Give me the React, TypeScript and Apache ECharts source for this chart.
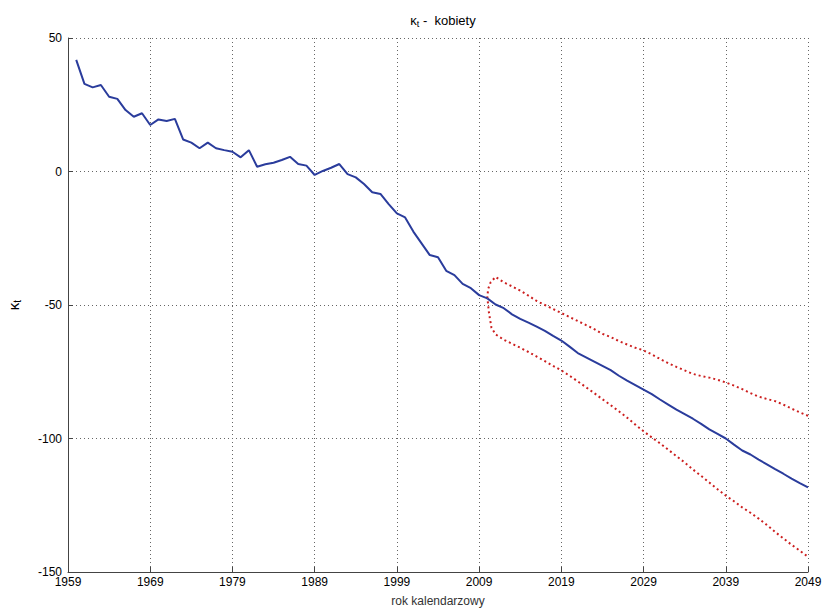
import React, { useEffect, useRef } from "react";
import * as echarts from "echarts";

const BASE_YEAR = 1959;
const histYears: number[] = [];
for (let y = 1960; y <= 2010; y++) histYears.push(y);
const histValues = [
  41.8, 32.8, 31.5, 32.4, 28, 27.2, 23, 20.5, 21.8, 17.4,
  19.5, 18.9, 19.7, 12, 10.8, 8.7, 10.8, 8.7, 8, 7.4,
  5.3, 8, 1.8, 2.7, 3.3, 4.3, 5.5, 2.8, 2.2, -1.3,
  0.2, 1.4, 2.8, -1, -2.2, -4.7, -7.8, -8.4, -12.2, -15.7,
  -17.2, -22.5, -26.9, -31.3, -32.1, -37.2, -38.8, -42.1, -43.7, -46.3,
  -47.5,
];

const fcYears: number[] = [];
for (let y = 2011; y <= 2049; y++) fcYears.push(y);
const fcCentral = [
  -49.8, -51.2, -53.5, -55.2, -56.6, -58.1, -59.7, -61.6, -63.3, -65.6,
  -68, -69.6, -71.2, -72.8, -74.4, -76.5, -78.3, -80, -81.7, -83.4,
  -85.4, -87.3, -89.2, -90.9, -92.6, -94.5, -96.6, -98.3, -100, -102.3,
  -104.5, -106, -107.9, -109.7, -111.5, -113.2, -115, -116.7, -118.3,
];
const fcUpper = [
  -39.5, -41.5, -43, -44.6, -46.5, -48.5, -50, -51.5, -53, -54.5,
  -56, -57.5, -59, -60.8, -62, -63.5, -64.8, -66, -67, -68.5,
  -70.2, -71.8, -73.2, -74.5, -75.8, -76.6, -77.2, -78, -79, -80.2,
  -81.5, -83, -84.3, -85.2, -86, -87.3, -88.8, -90.2, -91.5,
];
const fcLower = [
  -61, -63, -64.5, -66, -67.6, -69.3, -71, -72.8, -74.5, -76.5,
  -78.6, -80.8, -83, -85.3, -87.5, -89.8, -92.2, -94.8, -97.3, -99.6,
  -101.8, -104.2, -106.6, -109, -111.6, -114, -116.5, -119, -121.4, -123.5,
  -125.8, -127.8, -130, -132.4, -135, -137.4, -139.8, -142, -144.3,
];
// the dotted band's joining curve at its left end
const loopYears = [2010.4, 2010.1, 2010.0, 2010.2, 2010.5];
const loopValues = [-41.5, -44, -47, -53, -58.5];

const FONT = "'Liberation Sans', Arial, sans-serif";

export default function App() {
  const ref = useRef<HTMLDivElement>(null);
  useEffect(() => {
    if (!ref.current) return;
    const chart = echarts.init(ref.current, undefined, { renderer: "svg" });
    const hist = histYears.map((y, i) => [y - BASE_YEAR, histValues[i]]);
    const central = [[2010 - BASE_YEAR, histValues[histValues.length - 1]]].concat(
      fcYears.map((y, i) => [y - BASE_YEAR, fcCentral[i]])
    );
    const band: number[][] = [];
    for (let i = fcYears.length - 1; i >= 0; i--) band.push([fcYears[i] - BASE_YEAR, fcUpper[i]]);
    loopYears.forEach((y, i) => band.push([y - BASE_YEAR, loopValues[i]]));
    fcYears.forEach((y, i) => band.push([y - BASE_YEAR, fcLower[i]]));

    const gridLine = { show: true, lineStyle: { color: "#666", type: [1, 3] as any, width: 1 } };
    chart.setOption({
      animation: false,
      backgroundColor: "#fff",
      textStyle: { fontFamily: FONT },
      title: {
        text: "{k|κ}{s|t}{n| -  kobiety}",
        left: 438,
        textAlign: "center",
        top: 7,
        textStyle: {
          fontWeight: "normal",
          rich: {
            k: { fontSize: 13, fontFamily: FONT, color: "#000", fontWeight: "normal" },
            s: { fontSize: 9, fontFamily: FONT, color: "#000", padding: [7, 0, 0, 0], fontWeight: "normal" },
            n: { fontSize: 13, fontFamily: FONT, color: "#000", fontWeight: "normal" },
          },
        },
      },
      grid: { left: 68, right: 16, top: 38, bottom: 38, containLabel: false, outerBoundsMode: "none" },
      xAxis: {
        type: "value",
        min: 0,
        max: 90,
        interval: 10,
        name: "rok kalendarzowy",
        nameLocation: "middle",
        nameGap: 23,
        nameTextStyle: { fontSize: 12, color: "#333", fontFamily: FONT },
        axisLine: { onZero: false, lineStyle: { color: "#444", width: 1 } },
        axisTick: { inside: true, length: 5, lineStyle: { color: "#444" } },
        axisLabel: {
          formatter: (v: number) => String(v + BASE_YEAR),
          color: "#000",
          fontSize: 12,
          margin: 4,
          fontFamily: FONT,
        },
        splitLine: gridLine,
      },
      yAxis: {
        type: "value",
        min: -150,
        max: 50,
        interval: 50,
        name: "{k|κ}{s|t}",
        nameLocation: "middle",
        nameGap: 46,
        nameRotate: 90,
        nameTextStyle: {
          rich: {
            k: { fontSize: 15, fontFamily: FONT, color: "#000" },
            s: { fontSize: 10, fontFamily: FONT, color: "#000", padding: [8, 0, 0, 0] },
          },
        },
        axisLine: { show: true, onZero: false, lineStyle: { color: "#444", width: 1 } },
        axisTick: { show: true, inside: true, length: 5, lineStyle: { color: "#444" } },
        axisLabel: { color: "#000", fontSize: 12, margin: 6, fontFamily: FONT },
        splitLine: gridLine,
      },
      series: [
        {
          type: "line",
          data: band,
          showSymbol: false,
          symbol: "none",
          lineStyle: { color: "#cc1f1f", width: 2, type: [2, 3] as any },
          z: 2,
        },
        {
          type: "line",
          data: hist,
          showSymbol: false,
          symbol: "none",
          lineStyle: { color: "#2a3c9c", width: 2 },
          z: 3,
        },
        {
          type: "line",
          data: central,
          showSymbol: false,
          symbol: "none",
          lineStyle: { color: "#2a3c9c", width: 2 },
          z: 3,
        },
      ],
    });
    return () => chart.dispose();
  }, []);
  return (
    <div
      ref={ref}
      style={{ position: "fixed", left: 0, top: 0, width: 824, height: 610 }}
    />
  );
}
